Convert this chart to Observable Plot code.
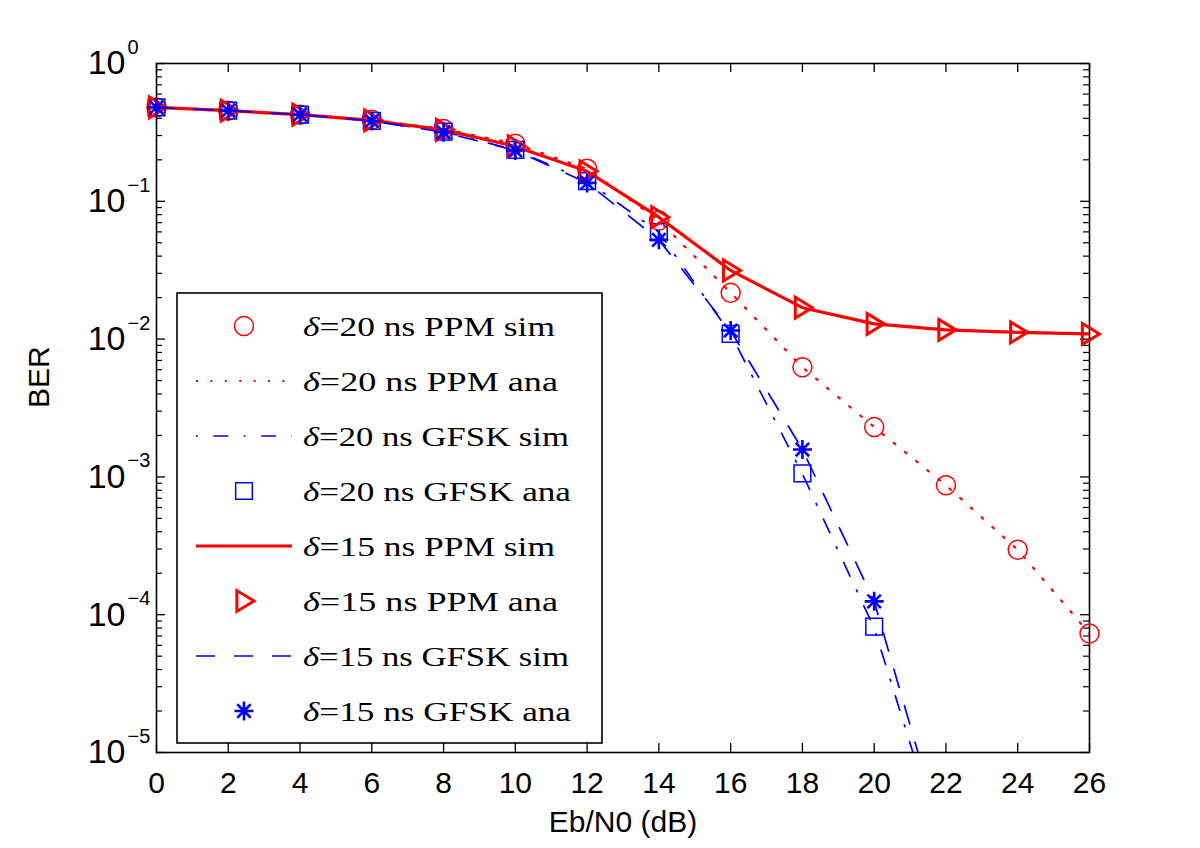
<!DOCTYPE html>
<html>
<head>
<meta charset="utf-8">
<script src="https://cdn.jsdelivr.net/npm/d3@7"></script>
<script src="https://cdn.jsdelivr.net/npm/@observablehq/plot@0.6"></script>
<style>
html, body { margin: 0; padding: 0; background: #fff; }
#chart { position: relative; width: 1200px; height: 848px; background: #fff; }
#legend { position: absolute; left: 0; top: 0; pointer-events: none; }
</style>
</head>
<body>
<div id="chart"></div>
<script>
// ---------------- data ----------------
const ebn0 = [0, 2, 4, 6, 8, 10, 12, 14, 16, 18, 20, 22, 24, 26];

// δ=20 ns PPM sim (circles)
const ppm20Sim = [0.48, 0.455, 0.425, 0.39, 0.335, 0.262, 0.172, 0.0726, 0.0217, 0.00625, 0.0023, 0.00087, 0.000296, 0.000073];
// δ=20 ns PPM ana (dotted)
const ppm20Ana = [0.48, 0.455, 0.425, 0.39, 0.335, 0.262, 0.172, 0.0726, 0.0217, 0.00625, 0.0023, 0.00087, 0.000296, 0.000073];
// δ=20 ns GFSK sim (dash-dot)
const gfsk20Sim = [0.48, 0.455, 0.425, 0.383, 0.32, 0.236, 0.14, 0.0597, 0.0109, 0.00105, 0.00008, 0.0000017];
// δ=20 ns GFSK ana (squares)
const gfsk20Ana = [0.48, 0.455, 0.425, 0.383, 0.32, 0.236, 0.14, 0.0597, 0.0109, 0.00106, 0.000082];
// δ=15 ns PPM sim (solid)
const ppm15Sim = [0.48, 0.455, 0.425, 0.386, 0.33, 0.25, 0.165, 0.0767, 0.0315, 0.0169, 0.0129, 0.01167, 0.0112, 0.0109];
// δ=15 ns PPM ana (triangles)
const ppm15Ana = [0.48, 0.455, 0.425, 0.386, 0.33, 0.25, 0.165, 0.0767, 0.0315, 0.0169, 0.0129, 0.01167, 0.0112, 0.0109];
// δ=15 ns GFSK sim (dashed)
const gfsk15Sim = [0.48, 0.455, 0.425, 0.383, 0.317, 0.234, 0.136, 0.0525, 0.0115, 0.00158, 0.000125, 0.000002];
// δ=15 ns GFSK ana (asterisks)
const gfsk15Ana = [0.48, 0.455, 0.425, 0.383, 0.317, 0.234, 0.136, 0.0525, 0.01154, 0.00158, 0.000125];

const xTicks = [0, 2, 4, 6, 8, 10, 12, 14, 16, 18, 20, 22, 24, 26];
const yDecades = [1e-5, 1e-4, 1e-3, 1e-2, 1e-1, 1];
const yTickBase = "10";
const yTickExponents = ["\u22125", "\u22124", "\u22123", "\u22122", "\u22121", "0"];
const minorMultipliers = [2, 3, 4, 5, 6, 7, 8, 9];
const xLabel = "Eb/N0 (dB)";
const yLabel = "BER";
const legendDelta = ["20", "20", "20", "20", "15", "15", "15", "15"];
const legendRest = [" ns PPM sim", " ns PPM ana", " ns GFSK sim", " ns GFSK ana",
                    " ns PPM sim", " ns PPM ana", " ns GFSK sim", " ns GFSK ana"];

// ---------------- styles / layout ----------------
const RED = "#ff0000", BLUE = "#0000ff";
const W = 1200, H = 848, mL = 156, mR = 111, mT = 63, mB = 96;
const pw = W - mL - mR, ph = H - mT - mB;

const symTriangle = {draw(ctx, size) {
  const r = Math.sqrt(size / Math.PI);
  ctx.moveTo(-0.75 * r, -1.1 * r); ctx.lineTo(-0.75 * r, 1.1 * r); ctx.lineTo(1.05 * r, 0); ctx.closePath();
}};
const symAsterisk = {draw(ctx, size) {
  const r = Math.sqrt(size / Math.PI), d = r * Math.SQRT1_2;
  ctx.moveTo(-r, 0); ctx.lineTo(r, 0);
  ctx.moveTo(0, -r); ctx.lineTo(0, r);
  ctx.moveTo(-d, -d); ctx.lineTo(d, d);
  ctx.moveTo(-d, d); ctx.lineTo(d, -d);
}};
const symSquare = {draw(ctx, size) {
  const r = Math.sqrt(size / Math.PI), h = r * 0.88;
  ctx.rect(-h, -h, 2 * h, 2 * h);
}};
const symCircle = {draw(ctx, size) {
  const r = Math.sqrt(size / Math.PI);
  ctx.moveTo(r, 0); ctx.arc(0, 0, r, 0, 2 * Math.PI);
}};

const series = [
  {vals: ppm20Sim, kind: "dot", symbol: symCircle, stroke: RED, strokeWidth: 1.5, r: 9.5},
  {vals: ppm20Ana, kind: "line", stroke: RED, strokeWidth: 2.2, dash: "2,12.4"},
  {vals: gfsk20Sim, kind: "line", stroke: BLUE, strokeWidth: 1.7, dash: "15,15.5,1.8,15.5"},
  {vals: gfsk20Ana, kind: "dot", symbol: symSquare, stroke: BLUE, strokeWidth: 1.5, r: 9.5},
  {vals: ppm15Sim, kind: "line", stroke: RED, strokeWidth: 3.2, dash: null},
  {vals: ppm15Ana, kind: "dot", symbol: symTriangle, stroke: RED, strokeWidth: 3, r: 9.5},
  {vals: gfsk15Sim, kind: "line", stroke: BLUE, strokeWidth: 1.7, dash: "19,19"},
  {vals: gfsk15Ana, kind: "dot", symbol: symAsterisk, stroke: BLUE, strokeWidth: 2.6, r: 9.5}
];

const toPts = vals => vals.map((v, i) => ({x: ebn0[i], y: v}));
const yMinor = yDecades.slice(0, -1).flatMap(d => minorMultipliers.map(m => m * d));

const dataMarks = series.map(s => s.kind === "line"
  ? Plot.line(toPts(s.vals), {x: "x", y: "y", stroke: s.stroke, strokeWidth: s.strokeWidth,
      strokeDasharray: s.dash || undefined, clip: true, strokeLinejoin: "round"})
  : Plot.dot(toPts(s.vals), {x: "x", y: "y", symbol: s.symbol, r: s.r, fill: "none",
      stroke: s.stroke, strokeWidth: s.strokeWidth}));

const chart = Plot.plot({
  width: W, height: H,
  marginLeft: mL, marginRight: mR, marginTop: mT, marginBottom: mB,
  style: {fontFamily: "'Liberation Sans', Arial, Helvetica, sans-serif", background: "#fff", color: "#000", overflow: "visible"},
  x: {domain: [0, 26], axis: null},
  y: {type: "log", domain: [1e-5, 1], axis: null},
  marks: [
    // ticks (inward)
    Plot.tickX(xTicks, {x: d => d, stroke: "#000", strokeWidth: 1.3, insetTop: ph - 9}),
    Plot.tickX(xTicks, {x: d => d, stroke: "#000", strokeWidth: 1.3, insetBottom: ph - 9}),
    Plot.tickY(yDecades, {y: d => d, stroke: "#000", strokeWidth: 1.3, insetRight: pw - 9}),
    Plot.tickY(yDecades, {y: d => d, stroke: "#000", strokeWidth: 1.3, insetLeft: pw - 9}),
    Plot.tickY(yMinor, {y: d => d, stroke: "#000", strokeWidth: 1.2, insetRight: pw - 6}),
    Plot.tickY(yMinor, {y: d => d, stroke: "#000", strokeWidth: 1.2, insetLeft: pw - 6}),
    Plot.frame({stroke: "#000", strokeWidth: 1.6}),
    ...dataMarks,
    // tick labels
    Plot.text(xTicks, {x: d => d, frameAnchor: "bottom", dy: 31, text: d => String(d),
      fontSize: 30, lineAnchor: "middle", fill: "#000"}),
    Plot.text(yDecades, {y: d => d, frameAnchor: "left", dx: -31, textAnchor: "end",
      text: () => yTickBase, fontSize: 34, lineAnchor: "middle", fill: "#000"}),
    Plot.text(yDecades, {y: d => d, frameAnchor: "left", dx: -29, dy: -16, textAnchor: "start",
      text: (d, i) => yTickExponents[i], fontSize: 20, lineAnchor: "middle", fill: "#000"}),
    // axis titles
    Plot.text([xLabel], {frameAnchor: "bottom", dy: 70, text: d => d, fontSize: 30, lineAnchor: "middle", fill: "#000"}),
    Plot.text([yLabel], {frameAnchor: "left", dx: -117, rotate: -90, text: d => d, fontSize: 30, lineAnchor: "middle", fill: "#000"})
  ]
});
document.getElementById("chart").appendChild(chart);

// ---------------- legend overlay ----------------
const lg = {x0: 177, y0: 293, x1: 602, y1: 743, row0: 326, rowStep: 55,
            lineX0: 196, lineX1: 292, markX: 244, textX: 303};
const textLengths = [252, 255, 266, 268, 252, 255, 266, 268];
const svgL = d3.select("#chart").append("svg").attr("id", "legend")
  .attr("width", W).attr("height", H);
svgL.append("rect")
  .attr("x", lg.x0).attr("y", lg.y0).attr("width", lg.x1 - lg.x0).attr("height", lg.y1 - lg.y0)
  .attr("fill", "#fff").attr("stroke", "#000").attr("stroke-width", 1.6);
series.forEach((s, i) => {
  const y = lg.row0 + i * lg.rowStep;
  if (s.kind === "line") {
    svgL.append("line").attr("x1", lg.lineX0).attr("x2", lg.lineX1).attr("y1", y).attr("y2", y)
      .attr("stroke", s.stroke).attr("stroke-width", s.strokeWidth)
      .attr("stroke-dasharray", s.dash === "15,15.5,1.8,15.5" ? "1.8,15.5,15,15.5" : s.dash);
  } else {
    svgL.append("path").attr("transform", `translate(${lg.markX},${y})`)
      .attr("d", d3.symbol(s.symbol, Math.PI * s.r * s.r)())
      .attr("fill", "none").attr("stroke", s.stroke).attr("stroke-width", s.strokeWidth);
  }
  const t = svgL.append("text").attr("x", lg.textX).attr("y", y + 10)
    .attr("font-family", "'Liberation Serif', 'Times New Roman', serif").attr("font-size", 28)
    .attr("fill", "#000")
    .attr("textLength", textLengths[i]).attr("lengthAdjust", "spacingAndGlyphs");
  t.append("tspan").attr("font-style", "italic").text("\u03B4");
  t.append("tspan").text("=" + legendDelta[i] + legendRest[i]);
});
</script>
</body>
</html>
